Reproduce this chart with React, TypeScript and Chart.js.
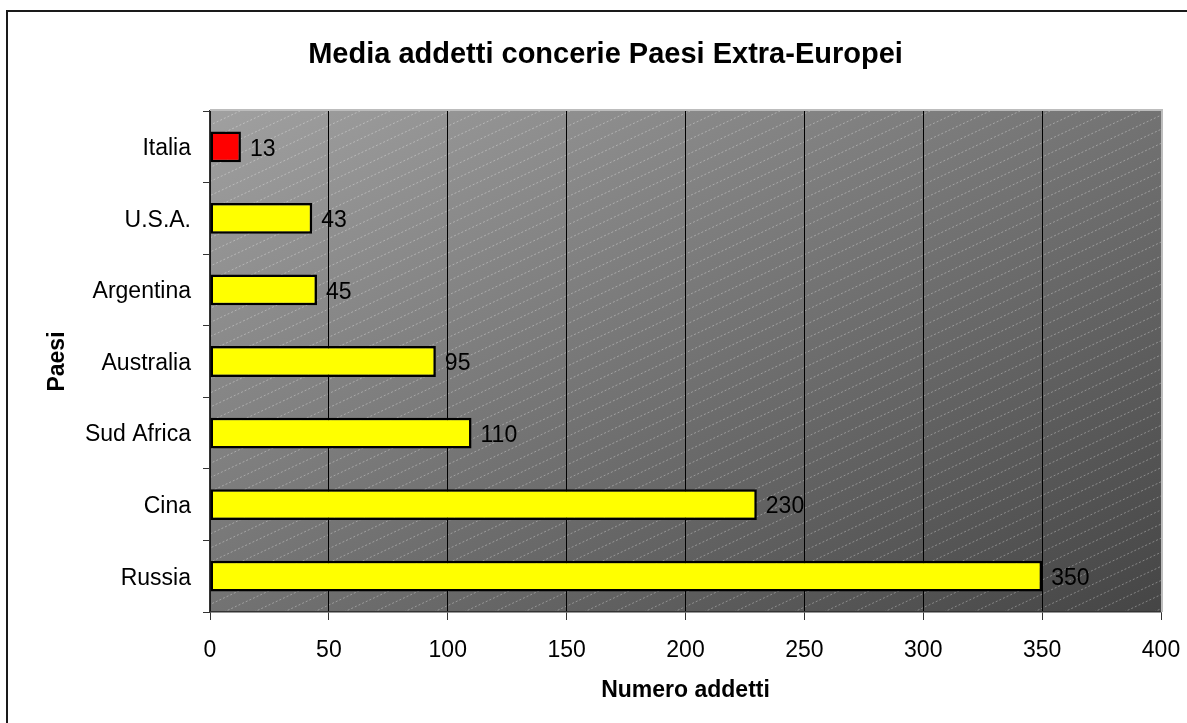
import React, { useEffect, useRef } from "react";
import { Chart, registerables } from "chart.js";

Chart.register(...registerables);

const chartTitle = "Media addetti concerie Paesi Extra-Europei";
const xAxisTitle = "Numero addetti";
const yAxisTitle = "Paesi";
const categories = ["Italia", "U.S.A.", "Argentina", "Australia", "Sud Africa", "Cina", "Russia"];
const values = [13, 43, 45, 95, 110, 230, 350];
const barColors = ["#ff0000", "#ffff00", "#ffff00", "#ffff00", "#ffff00", "#ffff00", "#ffff00"];
const xMin = 0;
const xMax = 400;
const xStep = 50;

const FONT = "'Liberation Sans', Arial, Helvetica, sans-serif";

const backgroundPlugin = {
  id: "excelBackground",
  beforeDraw(chart: any) {
    const { ctx, width, height, chartArea } = chart;
    const { left, top, right, bottom } = chartArea;
    ctx.save();
    ctx.fillStyle = "#ffffff";
    ctx.fillRect(0, 0, width, height);
    // outer frame (only left and top edges are inside the picture)
    ctx.strokeStyle = "#1a1a1a";
    ctx.lineWidth = 2;
    ctx.beginPath();
    ctx.moveTo(7, height + 5);
    ctx.lineTo(7, 11);
    ctx.lineTo(width + 5, 11);
    ctx.stroke();

    // title
    ctx.fillStyle = "#000000";
    ctx.font = `bold 29px ${FONT}`;
    ctx.textAlign = "center";
    ctx.textBaseline = "middle";
    ctx.fillText(chartTitle, 605.5, 55);

    // diagonal gradient
    const W = right - left;
    const H = bottom - top;
    const k = (2 * W * H) / (H * H + W * W);
    const g = ctx.createLinearGradient(left, top, left + H * k, top + W * k);
    g.addColorStop(0, "#a0a0a0");
    g.addColorStop(1, "#454545");
    ctx.fillStyle = g;
    ctx.fillRect(left, top, W, H);

    // hatch
    ctx.beginPath();
    ctx.rect(left, top, W, H);
    ctx.clip();
    ctx.strokeStyle = "rgba(255,255,255,0.33)";
    ctx.lineWidth = 1;
    ctx.setLineDash([2, 2]);
    const slope = 0.47;
    const span = H / slope;
    ctx.beginPath();
    for (let x0 = left - span; x0 <= right + 30; x0 += 30) {
      ctx.moveTo(x0, bottom);
      ctx.lineTo(x0 + span, top);
    }
    ctx.stroke();
    ctx.restore();
  },
  afterDatasetsDraw(chart: any) {
    const { ctx, chartArea } = chart;
    const { left, top, right, bottom } = chartArea;
    ctx.save();
    ctx.strokeStyle = "#bdbdbd";
    ctx.lineWidth = 2;
    ctx.beginPath();
    ctx.moveTo(left, top - 1);
    ctx.lineTo(right + 1, top - 1);
    ctx.lineTo(right + 1, bottom);
    ctx.stroke();
    ctx.restore();
  },
};

const valueLabelPlugin = {
  id: "valueLabels",
  afterDatasetsDraw(chart: any) {
    const { ctx } = chart;
    const meta = chart.getDatasetMeta(0);
    ctx.save();
    ctx.fillStyle = "#000000";
    ctx.font = `23px ${FONT}`;
    ctx.textAlign = "left";
    ctx.textBaseline = "middle";
    meta.data.forEach((bar: any, i: number) => {
      ctx.fillText(String(values[i]), bar.x + 9, bar.y + 2.5);
    });
    ctx.restore();
  },
};

export default function App() {
  const canvasRef = useRef<HTMLCanvasElement | null>(null);

  useEffect(() => {
    if (!canvasRef.current) return;
    const chart = new Chart(canvasRef.current, {
      type: "bar",
      data: {
        labels: categories,
        datasets: [
          {
            data: values,
            backgroundColor: barColors,
            borderColor: "#000000",
            borderWidth: 2.5,
            borderSkipped: false,
            barPercentage: 0.43,
            categoryPercentage: 1,
          },
        ],
      },
      options: {
        indexAxis: "y",
        responsive: false,
        animation: false,
        devicePixelRatio: 1,
        layout: { padding: { left: 32, right: 26, top: 111, bottom: 0 } },
        plugins: {
          legend: { display: false },
          tooltip: { enabled: false },
          title: { display: false },
        },
        scales: {
          x: {
            type: "linear",
            min: xMin,
            max: xMax,
            ticks: {
              stepSize: xStep,
              color: "#000000",
              font: { family: FONT, size: 23 },
              padding: 17,
            },
            grid: {
              color: (c: any) => (c.index === 8 ? "rgba(0,0,0,0)" : "#000000"),
              tickColor: "#333333",
              tickLength: 8,
              lineWidth: 1,
            },
            border: { display: true, color: "#333333", width: 1.5 },
            title: {
              display: true,
              text: xAxisTitle,
              color: "#000000",
              font: { family: FONT, size: 23, weight: "bold" },
              padding: { top: 4, bottom: 19 },
            },
            afterFit(scale: any) {
              scale.height = 111;
              scale.paddingLeft = 0;
              scale.paddingRight = 0;
            },
          },
          y: {
            type: "category",
            ticks: {
              color: "#000000",
              font: { family: FONT, size: 23 },
              padding: 12,
              labelOffset: 2,
            },
            grid: {
              offset: true,
              drawOnChartArea: false,
              color: "#333333",
              tickLength: 7,
            },
            border: { display: true, color: "#333333", width: 1.5 },
            title: {
              display: true,
              text: yAxisTitle,
              color: "#000000",
              font: { family: FONT, size: 23, weight: "bold" },
              padding: { top: 12, bottom: 4 },
            },
            afterFit(scale: any) {
              scale.width = 178;
              scale.paddingTop = 0;
              scale.paddingBottom = 0;
            },
          },
        },
      },
      plugins: [backgroundPlugin, valueLabelPlugin],
    });
    return () => chart.destroy();
  }, []);

  return (
    <div style={{ position: "fixed", left: 0, top: 0, width: 1187, height: 723, background: "#fff" }}>
      <canvas ref={canvasRef} width={1187} height={723} style={{ display: "block" }} />
    </div>
  );
}
